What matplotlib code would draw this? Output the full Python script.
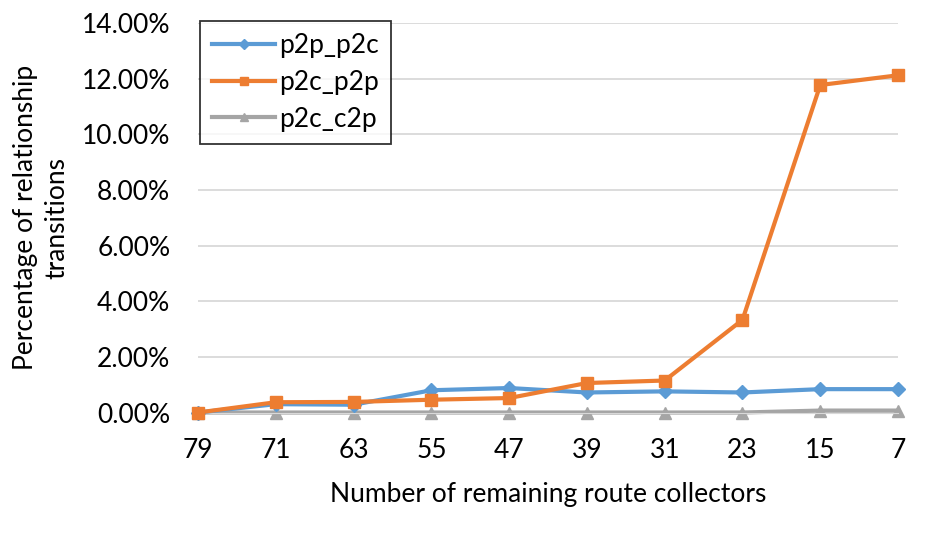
import matplotlib
matplotlib.use("Agg")
import matplotlib.pyplot as plt
from matplotlib.ticker import FuncFormatter

categories = ["79", "71", "63", "55", "47", "39", "31", "23", "15", "7"]
p2p_p2c = [0.0, 0.30, 0.28, 0.80, 0.88, 0.72, 0.76, 0.72, 0.84, 0.84]
p2c_p2p = [0.0, 0.37, 0.38, 0.46, 0.52, 1.06, 1.15, 3.33, 11.77, 12.12]
p2c_c2p = [0.0, 0.0, 0.0, 0.0, 0.0, 0.0, 0.0, 0.0, 0.07, 0.07]

plt.rcParams['font.family'] = ['Lato', 'DejaVu Sans']

fig = plt.figure(figsize=(9.48, 5.34), dpi=100)
ax = fig.add_axes([0.2089, 0.2275, 0.7384, 0.7295])

x = list(range(len(categories)))
ax.plot(x, p2p_p2c, color="#5B9BD5", lw=3.0, marker="D", ms=7, label="p2p_p2c", zorder=3, clip_on=False)
ax.plot(x, p2c_p2p, color="#ED7D31", lw=3.0, marker="s", ms=8, label="p2c_p2p", zorder=4, clip_on=False)
ax.plot(x, p2c_c2p, color="#A5A5A5", lw=3.0, marker="^", ms=8, label="p2c_c2p", zorder=2, clip_on=False)

ax.set_xlim(0, len(categories) - 1)
ax.set_ylim(0, 14)
ax.set_yticks([0, 2, 4, 6, 8, 10, 12, 14])
ax.yaxis.set_major_formatter(FuncFormatter(lambda v, p: f"{v:.2f}%"))
ax.set_xticks(x)
ax.set_xticklabels(categories)
ax.grid(axis="y", color="#D9D9D9", lw=1.3)
ax.set_axisbelow(True)
for s in ["top", "right", "left"]:
    ax.spines[s].set_visible(False)
ax.spines["bottom"].set_color("#D9D9D9")
ax.tick_params(axis="both", length=0, labelsize=19, colors="#000000")
ax.tick_params(axis="y", pad=20)
ax.tick_params(axis="x", pad=18)

ax.set_xlabel("Number of remaining route collectors", fontsize=19, labelpad=14)
ax.set_ylabel("Percentage of relationship\ntransitions", fontsize=19, labelpad=9, linespacing=1.3)

leg = ax.legend(loc="upper left", bbox_to_anchor=(0.003, 1.005), borderaxespad=0, fontsize=19,
                frameon=True, fancybox=False, edgecolor="black", handlelength=2.4,
                handletextpad=0.15, borderpad=0.45, labelspacing=0.45, markerscale=0.7)
leg.get_frame().set_linewidth(1.3)

fig.savefig("out.png", dpi=100)
